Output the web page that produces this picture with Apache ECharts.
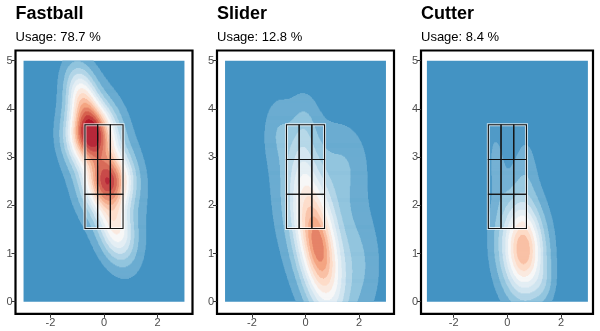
<!DOCTYPE html>
<html>
<head>
<meta charset="utf-8">
<script src="https://cdn.jsdelivr.net/npm/echarts@6/dist/echarts.min.js"></script>
<style>
  html, body { margin: 0; padding: 0; background: #ffffff; }
  #chart { width: 600px; height: 331px; }
</style>
</head>
<body>
<div id="chart"></div>
<script>
// Pitch location density by pitch type (catcher's view, feet).
const pitchTypes = ['Fastball', 'Slider', 'Cutter'];
const usagePct = [78.7, 12.8, 8.4];

// Density components for each pitch type:
// [centre x, centre z, spread x, spread z, correlation, peak height in contour levels]
const fastballBlobs = [
  [ 0.00, 2.80, 1.10, 1.40, -0.45,  2.3],
  [-0.80, 4.20, 0.40, 0.45, -0.30,  6.0],
  [-0.48, 3.45, 0.55, 0.40,  0.00, 12.0],
  [ 0.15, 2.50, 0.55, 0.40,  0.00, 11.0],
  [ 0.45, 1.50, 0.45, 0.45, -0.30,  5.5]
];
const sliderBlobs = [
  [ 0.45, 1.15, 0.60, 1.00, -0.50, 9.0],
  [ 0.50, 1.10, 0.25, 0.40, -0.40, 0.8],
  [ 0.40, 1.90, 1.25, 1.50, -0.30, 2.2],
  [-0.10, 3.00, 0.35, 0.70,  0.00, 1.3],
  [ 0.00, 3.75, 0.30, 0.35,  0.00, 0.5],
  [-1.05, 3.55, 0.35, 0.45,  0.00, 1.0],
  [ 1.60, 2.90, 0.60, 0.60,  0.00, 1.1],
  [ 2.00, 0.70, 0.60, 0.80,  0.00, 1.3]
];
const cutterBlobs = [
  [ 0.58, 1.05, 0.60, 0.70, -0.10, 7.0],
  [ 0.62, 1.10, 0.35, 0.50,  0.00, 2.1],
  [ 0.35, 1.60, 0.80, 1.10,  0.00, 1.0],
  [ 0.70, 2.80, 0.30, 0.55,  0.00, 0.9],
  [-0.40, 2.90, 0.20, 0.50, -0.30, 1.1],
  [ 1.35, 0.35, 0.30, 0.30,  0.00, 0.9]
];

// Strike zone grid lines
const zoneX = [-0.71, -0.237, 0.237, 0.71];
const zoneZ = [1.52, 2.23, 2.95, 3.67];

// Axis ticks and plotted region
const xTicks = [-2, 0, 2];
const zTicks = [0, 1, 2, 3, 4, 5];
const regionX = [-3, 3];
const regionZ = [0, 5];

// Fill colours from the lowest to the highest contour level
const levelColors = ['#4393C3', '#92C5DE', '#D1E5F0', '#F7F7F7', '#FDDBC7', '#F4A582', '#D6604D', '#B2182B'];
const maxLevel = 14;

const blobSets = [fastballBlobs, sliderBlobs, cutterBlobs];

// Panel placement
const panels = [
  { left: 15.5, width: 177, xMin: -3.3, xMax: 3.3 },
  { left: 217,  width: 177, xMin: -3.3, xMax: 3.3 },
  { left: 421,  width: 172, xMin: -3.22, xMax: 3.19 }
];
const panelTop = 50.5, panelHeight = 263.3, zMin = -0.25, zMax = 5.21;

const stepX = 0.02, stepZ = 0.02;

function densityAt(blobs, x, z) {
  let d = 0;
  for (const [cx, cz, sx, sz, r, h] of blobs) {
    const u = (x - cx) / sx, v = (z - cz) / sz;
    const q = (u * u + v * v - 2 * r * u * v) / (1 - r * r);
    d += h * Math.exp(-0.5 * q);
  }
  return d;
}

// Filled bands, each level drawn over the one below:
// [x0, x1, z0, z1, level]
function levelBands(blobs) {
  const nx = Math.round((regionX[1] - regionX[0]) / stepX);
  const nz = Math.round((regionZ[1] - regionZ[0]) / stepZ);
  const grid = [];
  for (let j = 0; j < nz; j++) {
    const z = regionZ[0] + (j + 0.5) * stepZ;
    const row = new Array(nx);
    for (let i = 0; i < nx; i++) {
      const x = regionX[0] + (i + 0.5) * stepX;
      row[i] = Math.min(maxLevel, Math.floor(densityAt(blobs, x, z)));
    }
    grid.push(row);
  }
  const bands = [[regionX[0], regionX[1], regionZ[0], regionZ[1], 0]];
  for (let k = 1; k <= maxLevel; k++) {
    for (let j = 0; j < nz; j++) {
      const row = grid[j];
      const z0 = regionZ[0] + j * stepZ;
      let start = -1;
      for (let i = 0; i <= nx; i++) {
        const inside = i < nx && row[i] >= k;
        if (inside && start < 0) start = i;
        if (!inside && start >= 0) {
          bands.push([regionX[0] + start * stepX, regionX[0] + i * stepX, z0, z0 + stepZ, k]);
          start = -1;
        }
      }
    }
  }
  return bands;
}

function renderBand(params, api) {
  const x0 = api.value(0), x1 = api.value(1), z0 = api.value(2), z1 = api.value(3);
  const a = api.coord([x0, z1]);
  const b = api.coord([x1, z0]);
  const padL = x0 > regionX[0] ? 0.3 : 0, padR = x1 < regionX[1] ? 0.3 : 0;
  const padT = z1 < regionZ[1] ? 0.3 : 0, padB = z0 > regionZ[0] ? 0.3 : 0;
  return {
    type: 'rect',
    shape: { x: a[0] - padL, y: a[1] - padT, width: b[0] - a[0] + padL + padR, height: b[1] - a[1] + padT + padB },
    style: { fill: api.visual('color') },
    silent: true
  };
}

const zoneCells = [];
for (let i = 0; i < 3; i++) {
  for (let j = 0; j < 3; j++) {
    zoneCells.push([zoneX[i], zoneX[i + 1], zoneZ[j], zoneZ[j + 1]]);
  }
}

function renderZone(params, api) {
  const a = api.coord([api.value(0), api.value(3)]);
  const b = api.coord([api.value(1), api.value(2)]);
  return {
    type: 'rect',
    shape: { x: a[0], y: a[1], width: b[0] - a[0], height: b[1] - a[1] },
    style: { fill: 'rgba(255,255,255,0.07)', stroke: '#111111', lineWidth: 1.1 },
    silent: true
  };
}

function renderZoneEdge(params, api) {
  const a = api.coord([api.value(0), api.value(3)]);
  const b = api.coord([api.value(1), api.value(2)]);
  return {
    type: 'rect',
    shape: { x: a[0], y: a[1], width: b[0] - a[0], height: b[1] - a[1] },
    style: { fill: 'none', stroke: 'rgba(255,255,255,0.7)', lineWidth: 3 },
    silent: true
  };
}

const font = "'Liberation Sans', Arial, sans-serif";
const grids = [], xAxes = [], yAxes = [], series = [], titles = [], densityIdx = [];

panels.forEach((p, k) => {
  grids.push({
    left: p.left, top: panelTop, width: p.width, height: panelHeight,
    show: true, borderColor: '#000000', borderWidth: 2.2, backgroundColor: '#ffffff'
  });
  xAxes.push({
    type: 'value', gridIndex: k, min: p.xMin, max: p.xMax, position: 'bottom',
    axisLine: { show: false, onZero: false }, splitLine: { show: false },
    axisTick: { show: true, customValues: xTicks, length: 4, lineStyle: { color: '#333333', width: 1 } },
    axisLabel: { customValues: xTicks, color: '#4d4d4d', fontSize: 11, fontFamily: font, margin: 4 }
  });
  yAxes.push({
    type: 'value', gridIndex: k, min: zMin, max: zMax, position: 'left',
    axisLine: { show: false, onZero: false }, splitLine: { show: false },
    axisTick: { show: true, customValues: zTicks, length: 4, lineStyle: { color: '#333333', width: 1 } },
    axisLabel: { customValues: zTicks, color: '#4d4d4d', fontSize: 11, fontFamily: font, margin: 3 }
  });
  densityIdx.push(series.length);
  series.push({
    type: 'custom', xAxisIndex: k, yAxisIndex: k, renderItem: renderBand,
    data: levelBands(blobSets[k]), encode: { x: [0, 1], y: [2, 3] },
    progressive: 0, z: 2, silent: true
  });
  series.push({
    type: 'custom', xAxisIndex: k, yAxisIndex: k, renderItem: renderZoneEdge,
    data: [[zoneX[0], zoneX[3], zoneZ[0], zoneZ[3]]], encode: { x: [0, 1], y: [2, 3] }, z: 3, silent: true
  });
  series.push({
    type: 'custom', xAxisIndex: k, yAxisIndex: k, renderItem: renderZone,
    data: zoneCells, encode: { x: [0, 1], y: [2, 3] }, z: 4, silent: true
  });
  titles.push({
    text: pitchTypes[k],
    subtext: 'Usage: ' + usagePct[k] + ' %',
    left: p.left, top: 5, padding: 0, itemGap: 8,
    textStyle: { fontFamily: font, fontSize: 18, fontWeight: 'bold', color: '#000000' },
    subtextStyle: { fontFamily: font, fontSize: 13, color: '#000000' }
  });
});

const chart = echarts.init(document.getElementById('chart'), null, { renderer: 'canvas' });
chart.setOption({
  animation: false,
  backgroundColor: '#ffffff',
  title: titles,
  grid: grids,
  xAxis: xAxes,
  yAxis: yAxes,
  visualMap: {
    type: 'continuous', show: false, dimension: 4,
    seriesIndex: densityIdx, min: 0, max: maxLevel,
    inRange: { color: levelColors }
  },
  series: series
});
</script>
</body>
</html>
